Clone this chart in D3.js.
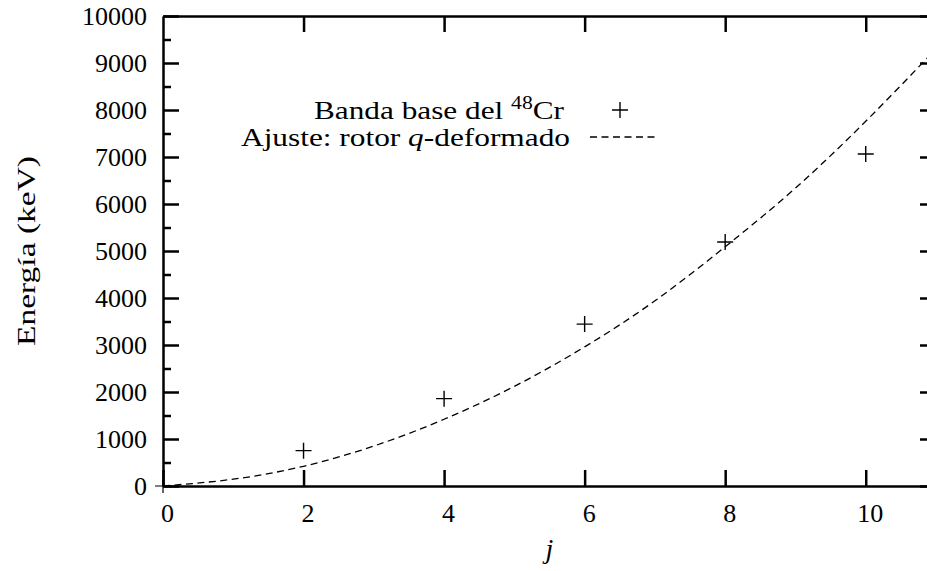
<!DOCTYPE html>
<html>
<head>
<meta charset="utf-8">
<script src="https://cdn.jsdelivr.net/npm/d3@7"></script>
<style>
  body { margin: 0; background: #fff; }
</style>
</head>
<body>
<svg id="chart" width="927" height="571"></svg>
<script>
// ground band of 48Cr (keV)
const bandJ = [2, 4, 6, 8, 10];
const bandE = [752, 1858, 3445, 5192, 7063];

// fitted q-rotor curve
const fitJ = [0, 1, 2, 3, 4, 5, 6, 7, 8, 9, 10, 11];
const fitE = [0, 145, 420, 850, 1420, 2120, 2960, 3940, 5090, 6340, 7760, 9300];

const xTicks = [0, 2, 4, 6, 8, 10];
const yTicks = [0, 1000, 2000, 3000, 4000, 5000, 6000, 7000, 8000, 9000, 10000];
const yMinorTicks = [500, 1500, 2500, 3500, 4500, 5500, 6500, 7500, 8500, 9500];

const serif = "'Liberation Serif', 'DejaVu Serif', serif";

const svg = d3.select("#chart");
const plotLeft = 163, plotTop = 16, plotRight = 936, plotBottom = 486;

let x = d3.scaleLinear().domain([0, 11]).range([plotLeft, plotRight]);
let y = d3.scaleLinear().domain([0, 10000]).range([plotBottom, plotTop]);

svg.append("defs").append("clipPath").attr("id", "plotclip")
    .append("rect")
    .attr("x", plotLeft).attr("y", plotTop)
    .attr("width", plotRight - plotLeft).attr("height", plotBottom - plotTop);

// axes, gnuplot style: ticks inward, mirrored
function styleAxis(g) {
    g.attr("font-family", null).attr("font-size", null);
    g.selectAll("path.domain").attr("stroke", "#000").attr("stroke-width", 2.5);
    g.selectAll(".tick line").attr("stroke", "#000").attr("stroke-width", 2.5);
    g.selectAll(".tick text")
        .style("font-family", serif)
        .style("font-size", "26px")
        .attr("fill", "#000");
}

svg.append("g")
    .attr("transform", "translate(0," + plotBottom + ")")
    .call(d3.axisBottom(x).tickValues(xTicks).tickFormat(d3.format("d"))
        .tickSizeInner(-16).tickSizeOuter(0).tickPadding(18))
    .call(styleAxis)
    .selectAll(".tick text").attr("dx", 4);

svg.append("g")
    .attr("transform", "translate(0," + plotTop + ")")
    .call(d3.axisTop(x).tickValues(xTicks.slice(1)).tickSizeInner(-16).tickSizeOuter(0).tickFormat(""))
    .call(styleAxis);

svg.append("g")
    .attr("transform", "translate(" + plotLeft + ",0)")
    .call(d3.axisLeft(y).tickValues(yTicks).tickFormat(d3.format("d"))
        .tickSizeInner(-16).tickSizeOuter(0).tickPadding(16))
    .call(styleAxis);

svg.append("g")
    .attr("transform", "translate(" + plotRight + ",0)")
    .call(d3.axisRight(y).tickValues(yTicks).tickSizeInner(-16).tickSizeOuter(0).tickFormat(""))
    .call(styleAxis);

svg.append("g")
    .attr("transform", "translate(" + plotLeft + ",0)")
    .call(d3.axisLeft(y).tickValues(yMinorTicks).tickSizeInner(-8).tickSizeOuter(0).tickFormat(""))
    .call(styleAxis)
    .select("path.domain").remove();

svg.append("g")
    .attr("transform", "translate(" + plotRight + ",0)")
    .call(d3.axisRight(y).tickValues(yMinorTicks).tickSizeInner(-8).tickSizeOuter(0).tickFormat(""))
    .call(styleAxis)
    .select("path.domain").remove();

// small cross at the origin
svg.append("path")
    .attr("d", "M" + (x(0) - 8) + "," + y(0) + "H" + (x(0) + 8) +
               "M" + x(0) + "," + (y(0) - 6) + "V" + (y(0) + 7))
    .attr("stroke", "#000").attr("stroke-width", 1.2);

// fit curve
let fitData = fitJ.map(function (j, i) { return { j: j, e: fitE[i] }; });
let line = d3.line()
    .x(function (d) { return x(d.j); })
    .y(function (d) { return y(d.e); })
    .curve(d3.curveNatural);

svg.append("path")
    .datum(fitData)
    .attr("clip-path", "url(#plotclip)")
    .attr("d", line)
    .attr("fill", "none")
    .attr("stroke", "#000")
    .attr("stroke-width", 1.3)
    .attr("stroke-dasharray", "7,4.5");

// data points
let bandData = bandJ.map(function (j, i) { return { j: j, e: bandE[i] }; });
const plus = "M-8,0H8M0,-8V8";

svg.append("g").selectAll("path")
    .data(bandData)
    .enter()
    .append("path")
    .attr("transform", function (d) { return "translate(" + x(d.j) + "," + y(d.e) + ")"; })
    .attr("d", plus)
    .attr("fill", "none")
    .attr("stroke", "#000")
    .attr("stroke-width", 1.4);

// legend
let legend = svg.append("g");
let t1 = legend.append("text")
    .attr("x", 564).attr("y", 119)
    .attr("text-anchor", "end")
    .attr("textLength", 250)
    .attr("lengthAdjust", "spacingAndGlyphs")
    .style("font-family", serif)
    .style("font-size", "26px");
t1.append("tspan").text("Banda base del ");
t1.append("tspan").style("font-size", "18px").attr("dy", -10).text("48");
t1.append("tspan").attr("dy", 10).text("Cr");

legend.append("path")
    .attr("transform", "translate(620,110)")
    .attr("d", plus)
    .attr("stroke", "#000")
    .attr("stroke-width", 1.4);

let t2 = legend.append("text")
    .attr("x", 570).attr("y", 146)
    .attr("text-anchor", "end")
    .attr("textLength", 329)
    .attr("lengthAdjust", "spacingAndGlyphs")
    .style("font-family", serif)
    .style("font-size", "26px");
t2.append("tspan").text("Ajuste: rotor ");
t2.append("tspan").style("font-style", "italic").text("q");
t2.append("tspan").text("-deformado");

legend.append("line")
    .attr("x1", 590).attr("x2", 656)
    .attr("y1", 137).attr("y2", 137)
    .attr("stroke", "#000")
    .attr("stroke-width", 1.3)
    .attr("stroke-dasharray", "7,4.5");

// axis titles
svg.append("text")
    .attr("transform", "translate(35," + ((plotTop + plotBottom) / 2) + ") rotate(-90)")
    .attr("text-anchor", "middle")
    .attr("textLength", 190)
    .attr("lengthAdjust", "spacingAndGlyphs")
    .style("font-family", serif)
    .style("font-size", "26px")
    .text("Energía (keV)");

svg.append("text")
    .attr("x", (plotLeft + plotRight) / 2)
    .attr("y", 558)
    .attr("text-anchor", "middle")
    .style("font-family", serif)
    .style("font-size", "28px")
    .style("font-style", "italic")
    .text("j");
</script>
</body>
</html>
